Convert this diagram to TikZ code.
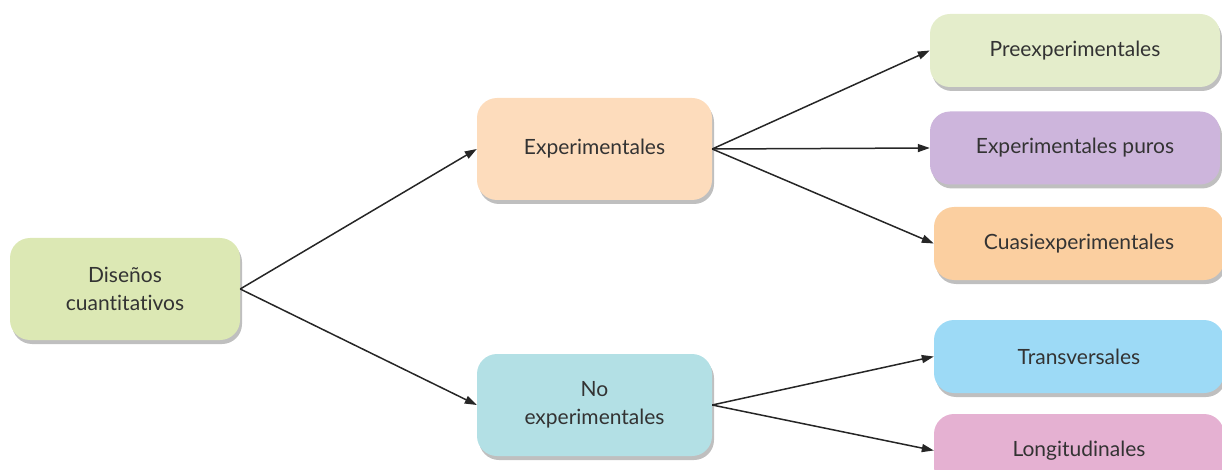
\documentclass[tikz,border=0pt]{standalone}
\usepackage{fontspec}
\setmainfont[Ligatures=NoCommon]{Lato}
\usetikzlibrary{arrows.meta,shadows}
\definecolor{txt}{HTML}{333333}
\definecolor{cA}{HTML}{DCE8B4}
\definecolor{cB}{HTML}{FDDCBC}
\definecolor{cC}{HTML}{B3E0E5}
\definecolor{cD}{HTML}{E4EDCB}
\definecolor{cE}{HTML}{CDB5DC}
\definecolor{cF}{HTML}{FBCFA0}
\definecolor{cG}{HTML}{9DDAF6}
\definecolor{cH}{HTML}{E5B1D2}
\begin{document}
\begin{tikzpicture}[x=1pt,y=-1pt,
  box/.style={rounded corners=20pt, inner sep=0pt, align=center, text=txt,
    font=\fontsize{21}{28}\selectfont,
    drop shadow={shadow xshift=2pt, shadow yshift=-4pt, opacity=0.25, fill=black}},
  mid/.style={box, minimum width=235pt, minimum height=102pt},
  leaf/.style={box, minimum width=290pt, minimum height=73pt},
  conn/.style={draw=black!85, line width=1.5pt, -{Triangle[length=12pt,width=8pt]}}]
\useasboundingbox (0,0) rectangle (1222,470);
\node[mid, fill=cA, minimum width=230pt] (dis) at (125,289) {Diseños\\cuantitativos};
\node[mid, fill=cB] (exp) at (594.5,149) {Experimentales};
\node[mid, fill=cC] (noexp) at (594.5,405) {No\\experimentales};
\node[leaf, fill=cD] (pre) at (1075,50.5) {Preexperimentales};
\node[leaf, fill=cE] (pur) at (1075,148) {Experimentales puros};
\node[leaf, fill=cF] (cua) at (1079,243.5) {Cuasiexperimentales};
\node[leaf, fill=cG] (tra) at (1079,356.5) {Transversales};
\node[leaf, fill=cH] (lon) at (1079,450.5) {Longitudinales};
\draw[conn] (dis.east) -- (exp.west);
\draw[conn] (dis.east) -- (noexp.west);
\draw[conn] (exp.east) -- (pre.west);
\draw[conn] (exp.east) -- (pur.west);
\draw[conn] (exp.east) -- (cua.west);
\draw[conn] (noexp.east) -- (tra.west);
\draw[conn] (noexp.east) -- (lon.west);
\end{tikzpicture}
\end{document}
